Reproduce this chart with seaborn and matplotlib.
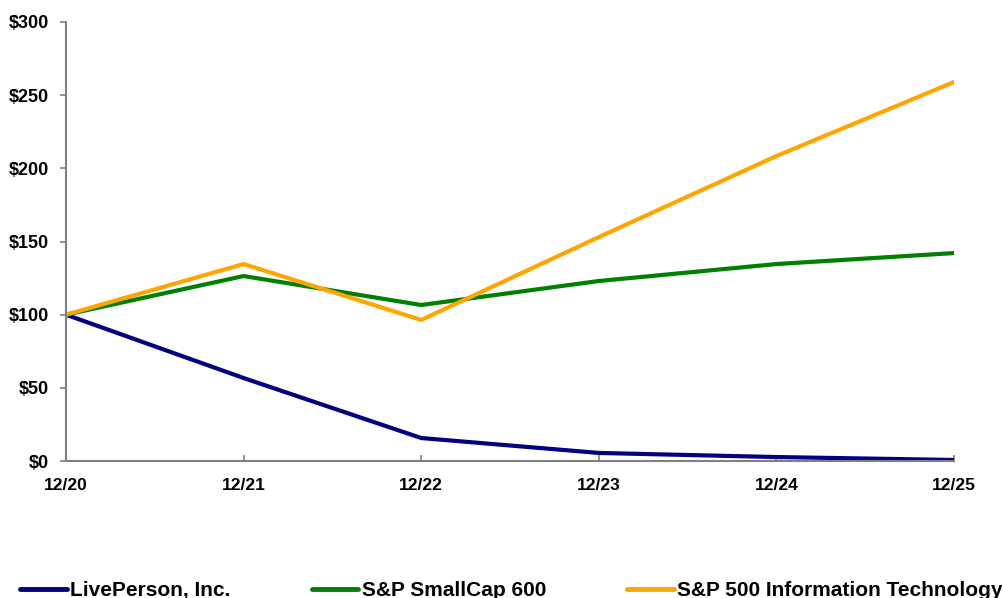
import matplotlib
matplotlib.use("Agg")
import matplotlib.pyplot as plt
import seaborn as sns
import pandas as pd
from matplotlib.lines import Line2D

periods = ["12/20", "12/21", "12/22", "12/23", "12/24", "12/25"]
liveperson = [100, 56.7, 15.7, 5.5, 2.7, 0.7]
smallcap = [100, 126.4, 106.6, 123.0, 134.6, 142.1]
sp500_it = [100, 134.6, 96.4, 153.0, 208.4, 259.0]
series_names = ["LivePerson, Inc.", "S&P SmallCap 600", "S&P 500 Information Technology"]
colors = ["#000080", "#008000", "#FFA500"]
yticks = [0, 50, 100, 150, 200, 250, 300]

sns.set_style("white")
plt.rcParams['font.family'] = ['Liberation Sans', 'DejaVu Sans']
plt.rcParams['text.color'] = 'black'
plt.rcParams['xtick.labelcolor'] = 'black'
plt.rcParams['ytick.labelcolor'] = 'black'

rows = []
for name, vals in zip(series_names, [liveperson, smallcap, sp500_it]):
    for i, (p, v) in enumerate(zip(periods, vals)):
        rows.append({"idx": i, "period": p, "value": v, "series": name})
df = pd.DataFrame(rows)

fig = plt.figure(figsize=(10.02, 5.98), dpi=100)
ax = fig.add_axes([66/1002, 1 - 461/598, (954-66)/1002, (461-22)/598])
sns.lineplot(data=df, x="idx", y="value", hue="series", palette=colors,
             hue_order=series_names, linewidth=3, ax=ax, legend=False, sort=False)
ax.set_xlim(0, len(periods) - 1)
ax.set_ylim(0, 300)
ax.set_xticks(range(len(periods)))
ax.set_xticklabels(periods)
ax.set_yticks(yticks)
ax.set_yticklabels([f"${v}" for v in yticks])
ax.set_xlabel("")
ax.set_ylabel("")
for s in ["top", "right"]:
    ax.spines[s].set_visible(False)
for s in ["left", "bottom"]:
    ax.spines[s].set_color("#808080")
    ax.spines[s].set_linewidth(1.5)
ax.tick_params(axis="y", left=True, direction="out", length=4, color="#808080", width=1.2,
               labelsize=13, pad=8, labelcolor="black")
ax.tick_params(axis="x", bottom=True, direction="in", length=4, color="#808080", width=1.2,
               labelsize=12.5, pad=12, labelcolor="black")
for lab in ax.get_xticklabels() + ax.get_yticklabels():
    lab.set_fontweight("bold")

handles = [Line2D([0], [0], color=c, linewidth=3.5) for c in colors]
leg = fig.legend(handles, series_names, loc="lower left", bbox_to_anchor=(20/1002, -0.003), ncol=3,
                 frameon=False, handlelength=2.25, handletextpad=0.15, columnspacing=3.9,
                 borderpad=0, borderaxespad=0,
                 prop={"weight": "bold", "size": 15})
for t in leg.get_texts():
    t.set_color("black")
fig.savefig("out.png", dpi=100)
